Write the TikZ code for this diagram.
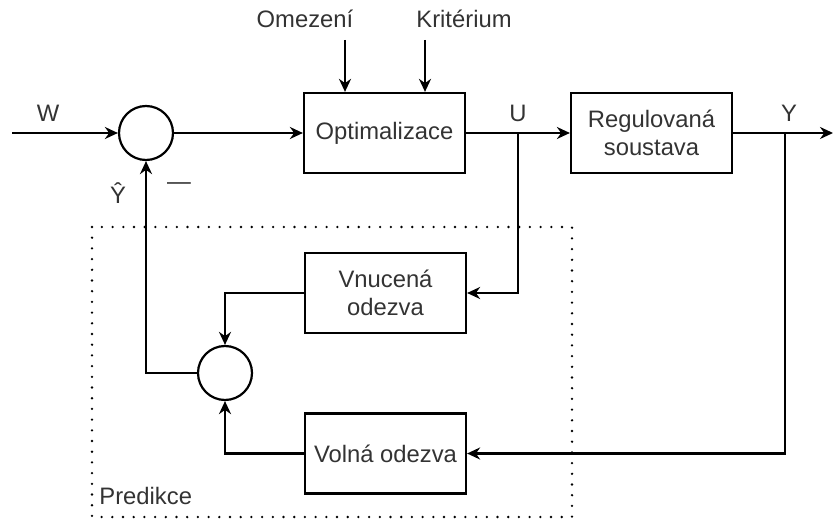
\documentclass[tikz,border=0pt]{standalone}
\usepackage{fontspec}
\setmainfont{Liberation Sans}
\usetikzlibrary{arrows.meta}
\begin{document}
\begin{tikzpicture}[x=0.5pt,y=-0.5pt,
  font=\fontsize{11.9pt}{14pt}\selectfont,
  wire/.style={line width=1.1pt,draw=black},
  sig/.style={wire,-{Stealth[length=6.5pt,width=6pt]}},
  block/.style={draw,line width=1.1pt,minimum width=80.5pt,minimum height=40pt,
    inner sep=0pt,align=center,text=black!80},
  summer/.style={draw,line width=1.1pt,circle,minimum size=27pt,inner sep=0pt},
  lbl/.style={text=black!80,inner sep=0pt}]
\useasboundingbox (0,0) rectangle (833,523);

% prediction region
\draw[line width=1.3pt,dash pattern=on 0pt off 5.35pt,line cap=round]
  (92,227) rectangle (572,517);
\node[lbl,anchor=south west] (pred) at (99,505) {Predikce};

% blocks and summing junctions
\node[summer] (s1) at (146,133) {};
\node[block] (opt) at (384.5,133) {Optimalizace};
\node[block] (plant) at (651.5,133) {Regulovaná\\soustava};
\node[block] (forced) at (385.5,293) {Vnucená\\odezva};
\node[block] (free) at (385.5,453.5) {Volná odezva};
\node[summer] (s2) at (225,373) {};

% inputs and outputs
\coordinate (win) at (12,133);
\coordinate (yout) at (833,133);
\coordinate (c1) at (345,40);
\coordinate (c2) at (425,40);
\coordinate (ub) at (518,133);
\coordinate (yb) at (785,133);

\node[lbl] (w) at (48,113) {W};
\node[lbl] (om) at (305,19) {Omezení};
\node[lbl] (kr) at (464,19) {Kritérium};
\node[lbl] (u) at (518,113) {U};
\node[lbl] (y) at (789,113) {Y};
\node[lbl] (yh) at (118,193) {Ŷ};
\node[lbl] (minus) at (179,186) {—};

% forward path
\draw[sig] (win) -- (s1.west);
\draw[sig] (s1.east) -- (opt.west);
\draw[sig] (c1) -- (c1 |- opt.north);
\draw[sig] (c2) -- (c2 |- opt.north);
\draw[sig] (opt.east) -- (plant.west);
\draw[sig] (plant.east) -- (yout);

% prediction paths
\draw[sig] (ub) |- (forced.east);
\draw[sig] (yb) |- (free.east);
\draw[sig] (forced.west) -| (s2.north);
\draw[sig] (free.west) -| (s2.south);
\draw[sig] (s2.west) -| (s1.south);
\end{tikzpicture}
\end{document}
